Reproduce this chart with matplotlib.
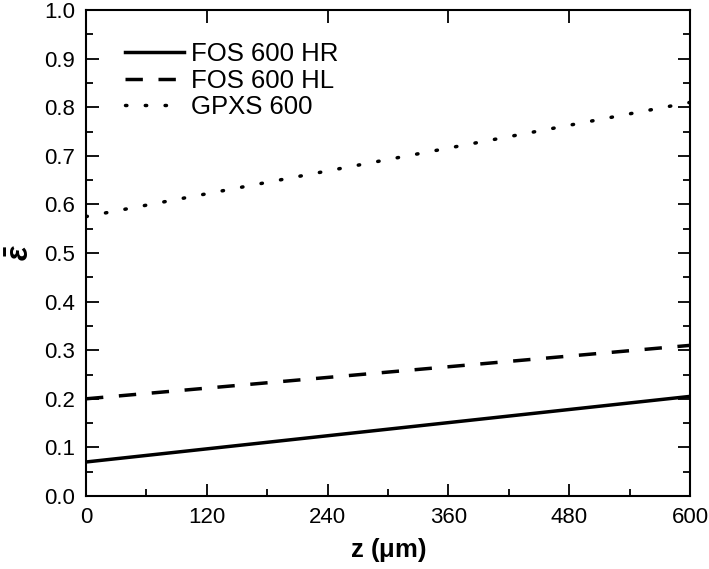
import matplotlib
matplotlib.use('agg')
import matplotlib.pyplot as plt
from matplotlib.ticker import MultipleLocator

plt.rcParams['font.family'] = ['Liberation Sans', 'DejaVu Sans']
plt.rcParams['mathtext.fontset'] = 'custom'
plt.rcParams['mathtext.it'] = 'Liberation Sans:italic:bold'
plt.rcParams['mathtext.rm'] = 'Liberation Sans:bold'

# data
z = [0, 120, 240, 360, 480, 600]
fos_hr = [0.070, 0.097, 0.124, 0.151, 0.178, 0.205]
fos_hl = [0.200, 0.222, 0.244, 0.266, 0.288, 0.310]
gpxs = [0.575, 0.622, 0.669, 0.716, 0.763, 0.810]

fig = plt.figure(figsize=(7.09, 5.69), dpi=100)
ax = fig.add_axes([0.1213, 0.1283, 0.852, 0.854])

ax.plot(z, fos_hr, color='black', lw=2.5, label='FOS 600 HR')
ax.plot(z, fos_hl, color='black', lw=2.5, dashes=(5, 4.5), label='FOS 600 HL')
ax.plot(z, gpxs, color='black', lw=2.5, dashes=(0.4, 5.3), dash_capstyle='round', label='GPXS 600')

ax.set_xlim(0, 600)
ax.set_ylim(0, 1.0)
ax.xaxis.set_major_locator(MultipleLocator(120))
ax.xaxis.set_minor_locator(MultipleLocator(60))
ax.yaxis.set_major_locator(MultipleLocator(0.1))
ax.yaxis.set_minor_locator(MultipleLocator(0.05))
ax.set_yticklabels([f'{v:.1f}' for v in ax.get_yticks()])

ax.tick_params(which='both', direction='in', labelsize=16, width=1.3)
ax.tick_params(which='major', length=9, pad=8)
ax.tick_params(which='minor', length=5)
ax.tick_params(axis='y', which='both', right=True)
ax.tick_params(axis='x', which='major', top=True)
for sp in ax.spines.values():
    sp.set_linewidth(1.5)

ax.set_xlabel(r'z ($\mathregular{\mu}$m)', fontsize=18.5, fontweight='bold', labelpad=6)
ax.set_ylabel(r'$\bar{\varepsilon}$', fontsize=22, labelpad=6)

ax.legend(loc='upper left', frameon=False, fontsize=18.5, handlelength=2.3,
          handletextpad=0.3, labelspacing=0.1, borderaxespad=0.0,
          bbox_to_anchor=(0.047, 0.955))

fig.savefig('out.png', dpi=100)
